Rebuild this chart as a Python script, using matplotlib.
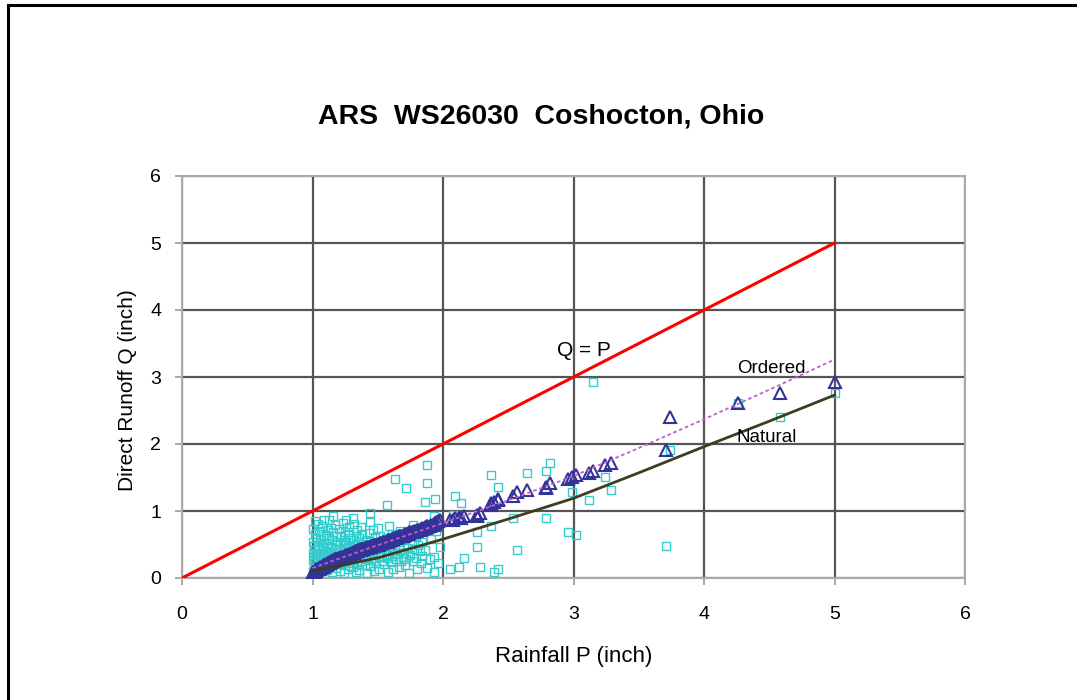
import numpy as np
import matplotlib
matplotlib.use("Agg")
import matplotlib.pyplot as plt
from matplotlib.lines import Line2D

plt.rcParams['font.family'] = ['Liberation Sans', 'DejaVu Sans']

title = "ARS  WS26030  Coshocton, Ohio"
x_label = "Rainfall P (inch)"
y_label = "Direct Runoff Q (inch)"
ticks = [0, 1, 2, 3, 4, 5, 6]

natural_P = [
    # 1.0 - 1.1
    1.03, 1.00, 1.07, 1.01, 1.05, 1.09, 1.02, 1.06, 1.00, 1.08, 1.04, 1.01, 1.09, 1.03, 1.06, 1.00, 1.08,
    1.02, 1.05, 1.07, 1.01, 1.04, 1.09, 1.00, 1.06, 1.03, 1.08, 1.02, 1.05, 1.00, 1.07, 1.04, 1.02, 1.09,
    # 1.1 - 1.2
    1.15, 1.11, 1.18, 1.13, 1.16, 1.10, 1.19, 1.14, 1.12, 1.17, 1.11, 1.15, 1.19, 1.13, 1.16, 1.10,
    1.18, 1.12, 1.14, 1.17, 1.11, 1.19, 1.15, 1.13, 1.18, 1.10, 1.16, 1.12, 1.14, 1.17, 1.13, 1.16,
    # 1.2 - 1.3
    1.24, 1.21, 1.27, 1.29, 1.22, 1.25, 1.20, 1.28, 1.23, 1.26, 1.21, 1.29, 1.24, 1.27, 1.22,
    1.20, 1.25, 1.28, 1.23, 1.26, 1.21, 1.24, 1.29, 1.22, 1.27, 1.25, 1.20, 1.28, 1.23, 1.26,
    # 1.3 - 1.4
    1.33, 1.36, 1.31, 1.38, 1.34, 1.30, 1.37, 1.32, 1.39, 1.35, 1.31, 1.36, 1.33, 1.38,
    1.30, 1.34, 1.37, 1.32, 1.39, 1.35, 1.31, 1.36, 1.33, 1.38, 1.34, 1.37, 1.32, 1.31,
    # 1.4 - 1.54
    1.42, 1.47, 1.51, 1.44, 1.40, 1.49, 1.53, 1.45, 1.41, 1.48, 1.52, 1.43, 1.46, 1.50, 1.40,
    1.44, 1.49, 1.53, 1.42, 1.47, 1.51, 1.45, 1.41, 1.48, 1.52, 1.43, 1.46, 1.50, 1.44, 1.44,
    # 1.54 - 1.7
    1.58, 1.62, 1.66, 1.55, 1.60, 1.68, 1.64, 1.57, 1.69, 1.61, 1.56, 1.65, 1.59, 1.67,
    1.63, 1.54, 1.60, 1.66, 1.58, 1.62, 1.69, 1.56, 1.64, 1.61, 1.67, 1.59, 1.57, 1.63,
    # 1.7 - 1.85
    1.74, 1.80, 1.71, 1.83, 1.77, 1.72, 1.79, 1.84, 1.75, 1.70, 1.82,
    1.78, 1.73, 1.81, 1.76, 1.84, 1.71, 1.79, 1.74, 1.82, 1.77, 1.72,
    # 1.85 - 2.0
    1.93, 1.88, 1.96, 1.90, 1.93, 1.86, 1.98, 1.91, 1.95, 1.93, 1.86, 1.94, 1.88, 1.88,
    # above 2.0
    2.05, 2.08, 2.09, 2.12, 2.14, 2.16, 2.26, 2.26, 2.28, 2.37, 2.37, 2.39,
    2.42, 2.42, 2.54, 2.57, 2.64, 2.79, 2.79, 2.82, 2.96, 2.99, 3.02, 3.12,
    3.15, 3.24, 3.29, 3.71, 3.74, 4.26, 4.58, 5.00,
]
natural_Q = [
    # 1.0 - 1.1
    0.08, 0.11, 0.14, 0.17, 0.19, 0.21, 0.23, 0.25, 0.27, 0.29, 0.30, 0.31, 0.33, 0.34, 0.36, 0.38, 0.40,
    0.42, 0.44, 0.46, 0.48, 0.50, 0.52, 0.54, 0.57, 0.60, 0.63, 0.66, 0.70, 0.73, 0.77, 0.81, 0.85, 0.87,
    # 1.1 - 1.2
    0.09, 0.12, 0.15, 0.18, 0.20, 0.22, 0.24, 0.26, 0.28, 0.30, 0.32, 0.34, 0.35, 0.37, 0.39, 0.41,
    0.43, 0.45, 0.47, 0.49, 0.51, 0.53, 0.56, 0.59, 0.62, 0.64, 0.68, 0.72, 0.75, 0.79, 0.86, 0.92,
    # 1.2 - 1.3
    0.08, 0.11, 0.14, 0.18, 0.21, 0.24, 0.26, 0.28, 0.30, 0.32, 0.34, 0.36, 0.37, 0.40, 0.42,
    0.44, 0.45, 0.47, 0.50, 0.52, 0.54, 0.57, 0.60, 0.63, 0.65, 0.69, 0.73, 0.76, 0.82, 0.86,
    # 1.3 - 1.4
    0.09, 0.12, 0.16, 0.19, 0.21, 0.23, 0.26, 0.29, 0.30, 0.31, 0.33, 0.35, 0.38, 0.41,
    0.43, 0.45, 0.47, 0.49, 0.51, 0.53, 0.56, 0.59, 0.62, 0.66, 0.71, 0.76, 0.80, 0.89,
    # 1.4 - 1.54
    0.08, 0.11, 0.14, 0.18, 0.20, 0.22, 0.25, 0.27, 0.29, 0.30, 0.32, 0.34, 0.36, 0.37, 0.39,
    0.42, 0.44, 0.45, 0.48, 0.50, 0.52, 0.54, 0.57, 0.61, 0.63, 0.67, 0.72, 0.75, 0.83, 0.97,
    # 1.54 - 1.7
    0.09, 0.13, 0.17, 0.21, 0.24, 0.26, 0.28, 0.30, 0.32, 0.33, 0.35, 0.38, 0.40, 0.42,
    0.44, 0.46, 0.48, 0.50, 0.52, 0.55, 0.58, 0.60, 0.62, 0.66, 0.70, 0.78, 1.09, 1.48,
    # 1.7 - 1.85
    0.08, 0.13, 0.19, 0.22, 0.25, 0.28, 0.30, 0.33, 0.35, 0.38, 0.41,
    0.43, 0.45, 0.49, 0.51, 0.54, 0.58, 0.62, 0.68, 0.72, 0.79, 1.35,
    # 1.85 - 2.0
    0.09, 0.15, 0.22, 0.29, 0.32, 0.42, 0.47, 0.58, 0.70, 0.92, 1.14, 1.18, 1.42, 1.69,
    # above 2.0
    0.14, 0.94, 1.22, 0.17, 1.12, 0.30, 0.46, 0.68, 0.17, 0.78, 1.54, 0.09,
    0.13, 1.36, 0.90, 0.42, 1.56, 0.89, 1.59, 1.72, 0.68, 1.28, 0.64, 1.16,
    2.93, 1.51, 1.31, 0.48, 1.91, 2.61, 2.40, 2.76,
]

# Ordered data: rainfall and runoff ranked independently
ordered_P = np.sort(natural_P)
ordered_Q = np.sort(natural_Q)

# Fitted curves
fit_P = [1.0, 1.5, 2.0, 2.5, 3.0, 3.5, 4.0, 4.5, 5.0]
ordered_fit_Q = [0.15, 0.49, 0.82, 1.16, 1.52, 1.94, 2.37, 2.81, 3.26]
natural_fit_Q = [0.10, 0.30, 0.58, 0.88, 1.19, 1.57, 1.96, 2.34, 2.73]

# Q = P line
qp_P = [0, 5]
qp_Q = [0, 5]

fig = plt.figure(figsize=(10.77, 7.0), dpi=100)
ax = fig.add_axes([182/1077, 1-578/700, (965-182)/1077, (578-176)/700])

ax.plot(natural_P, natural_Q, linestyle='none', marker='s', markersize=5.5,
        markerfacecolor='none', markeredgecolor='#33cccc', markeredgewidth=1.0, zorder=3)
ax.plot(ordered_P, ordered_Q, linestyle='none', marker='^', markersize=8.5,
        markerfacecolor='none', markeredgecolor='#333399', markeredgewidth=1.5, zorder=4)
ax.plot(fit_P, natural_fit_Q, color='#3d3d1f', lw=2.0, zorder=5)
ax.plot(fit_P, ordered_fit_Q, color='#c060c8', lw=1.3, linestyle=(0, (2, 1.5)), zorder=5)
ax.plot(qp_P, qp_Q, color='#ff0000', lw=2.2, zorder=6)

ax.text(3.08, 3.39, "Q = P", fontsize=15, ha='center', va='center', zorder=7)
ax.text(4.52, 3.13, "Ordered", fontsize=13.5, ha='center', va='center', zorder=7)
ax.text(4.48, 2.09, "Natural", fontsize=13.5, ha='center', va='center', zorder=7)

ax.set_xlim(0, 6)
ax.set_ylim(0, 6)
ax.set_xticks(ticks)
ax.set_yticks(ticks)
ax.grid(True, color='#555555', lw=1.6)
ax.set_axisbelow(True)
for s in ax.spines.values():
    s.set_color('#aaaaaa')
    s.set_linewidth(1.5)
ax.tick_params(direction='out', length=5, width=1.2, color='#999999',
               labelsize=14)
ax.tick_params(axis='x', pad=15)
ax.tick_params(axis='y', pad=10)
ax.set_xlabel(x_label, fontsize=16, labelpad=17)
ax.set_ylabel(y_label, fontsize=15)
ax.yaxis.set_label_coords(-0.057, 0.468)
fig.text(541/1077, 1-117/700, title, fontsize=20.5, fontweight='bold',
         ha='center', va='center')

# figure frame (top and left edges)
fig.add_artist(Line2D([8/1077, 1.0], [1-5/700, 1-5/700], color='black', lw=2.2,
                      transform=fig.transFigure))
fig.add_artist(Line2D([8/1077, 8/1077], [0, 1-5/700], color='black', lw=2.2,
                      transform=fig.transFigure))

fig.savefig("out.png", dpi=100)
